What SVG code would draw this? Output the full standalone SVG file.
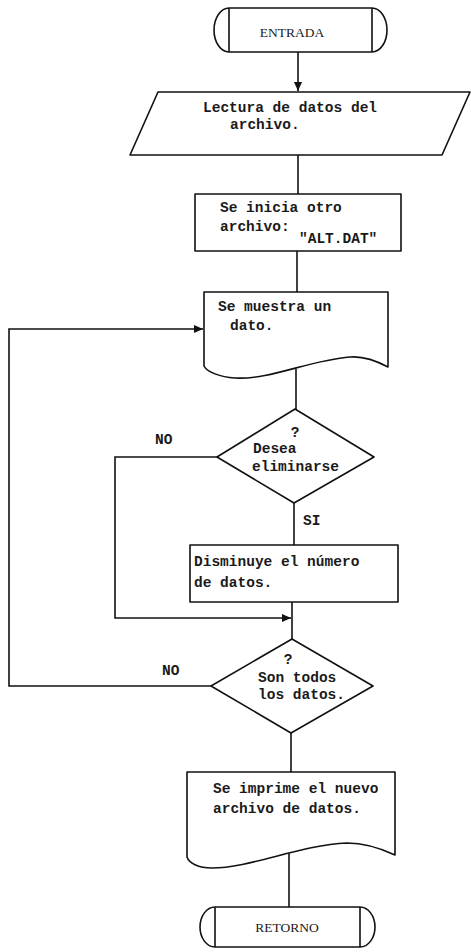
<svg xmlns="http://www.w3.org/2000/svg" width="471" height="952" viewBox="0 0 471 952">
<style>
.s{fill:#fff;stroke:#111;stroke-width:1.6;stroke-linejoin:round}
.l{fill:none;stroke:#111;stroke-width:1.6}
.t{font-family:"Liberation Mono","DejaVu Sans Mono",monospace;font-size:14.5px;font-weight:bold;fill:#1a1a1a}
.tt{font-family:"Liberation Serif","DejaVu Serif",serif;font-size:13.5px;fill:#1a1a1a}
</style>
<defs>
<marker id="ah" markerWidth="9" markerHeight="8" refX="9" refY="4" orient="auto" markerUnits="userSpaceOnUse"><path d="M0,0 L9,4 L0,8 Z" fill="#111"/></marker>
</defs>
<rect width="471" height="952" fill="#fff"/>
<g id="connectors">
<path class="l" d="M298,52 V91" marker-end="url(#ah)"/>
<path class="l" d="M298,155 V194"/>
<path class="l" d="M297,251 V292"/>
<path class="l" d="M296,369 V409"/>
<path class="l" d="M294,503 V545"/>
<path class="l" d="M292,602 V639"/>
<path class="l" d="M291,733 V772"/>
<path class="l" d="M289,853 V907"/>
<path class="l" d="M217,457 H115 V618 H291" marker-end="url(#ah)"/>
<path class="l" d="M211,686 H9 V329 H203" marker-end="url(#ah)"/>
<text class="t" x="155" y="444">NO</text>
<text class="t" x="303" y="525">SI</text>
<text class="t" x="162" y="675">NO</text>
<text class="t" x="299" y="719">SI</text>
</g>
<g id="entrada">
<path class="s" d="M229,8 H372 A15,22 0 0 1 372,52 H229 A15,22 0 0 1 229,8 Z"/>
<path class="l" d="M229,8 V52 M372,8 V52"/>
<text class="tt" x="292" y="37" text-anchor="middle">ENTRADA</text>
</g>
<g id="lectura">
<path class="s" d="M158,92 H470 L442,155 H130 Z"/>
<text class="t" x="203" y="112">Lectura de datos del</text>
<text class="t" x="230" y="129">archivo.</text>
</g>
<g id="inicia">
<rect class="s" x="195" y="194" width="206" height="57"/>
<text class="t" x="220" y="212">Se inicia otro</text>
<text class="t" x="220" y="231">archivo:</text>
<text class="t" x="299" y="243">"ALT.DAT"</text>
</g>
<g id="muestra">
<path class="s" d="M204,292 H388 V367 C375,360 362,356 350,357 C310,360 270,380 235,378 C220,377 207,372 204,366 Z"/>
<text class="t" x="218" y="311">Se muestra un</text>
<text class="t" x="230" y="330">dato.</text>
</g>
<g id="eliminar">
<path class="s" d="M295,409 L374,457 L294,503 L217,457 Z"/>
<text class="t" x="295" y="437" text-anchor="middle">?</text>
<text class="t" x="253" y="453">Desea</text>
<text class="t" x="252" y="471">eliminarse</text>
</g>
<g id="disminuye">
<rect class="s" x="190" y="545" width="208" height="57"/>
<text class="t" x="194" y="566">Disminuye el número</text>
<text class="t" x="194" y="587">de datos.</text>
</g>
<g id="todos">
<path class="s" d="M292,639 L373,686 L291,733 L211,686 Z"/>
<text class="t" x="288" y="664" text-anchor="middle">?</text>
<text class="t" x="258" y="682">Son todos</text>
<text class="t" x="258" y="699">los datos.</text>
</g>
<g id="imprime">
<path class="s" d="M187,772 H395 V855 C380,848 365,843 347,843 C300,845 250,868 212,868 C198,868 189,863 187,857 Z"/>
<text class="t" x="213" y="793">Se imprime el nuevo</text>
<text class="t" x="213" y="813">archivo de datos.</text>
</g>
<g id="retorno">
<path class="s" d="M215,907 H360 A15,20 0 0 1 360,947 H215 A15,20 0 0 1 215,907 Z"/>
<path class="l" d="M215,907 V947 M360,907 V947"/>
<text class="tt" x="287" y="932" text-anchor="middle">RETORNO</text>
</g>
</svg>
